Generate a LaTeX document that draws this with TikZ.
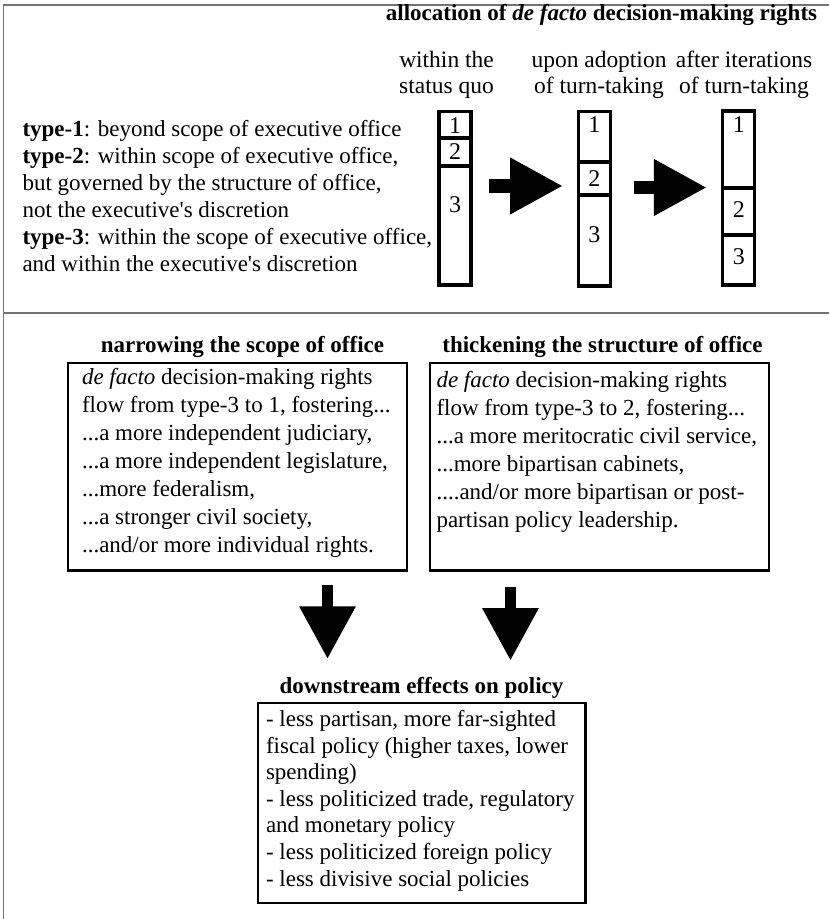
\documentclass[tikz,border=0pt]{standalone}
\usepackage{fontspec}
\newfontfamily\figfont{Liberation Serif}
\usepackage{tikz}
\usetikzlibrary{arrows.meta,positioning}

\begin{document}
\begin{tikzpicture}[
  x=0.75pt, y=-0.75pt,
  every node/.style={inner sep=0pt, outer sep=0pt, font=\figfont\fontsize{17.25pt}{20.25pt}\selectfont},
  frameline/.style={draw=black!55, line width=1.1pt},
  cell/.style={draw, line width=2.5pt, minimum width=24pt, anchor=north},
  panel/.style={draw, line width=1.75pt, minimum width=254.25pt, minimum height=155.6pt},
  lbl/.style={font=\figfont\bfseries\fontsize{17.25pt}{20.25pt}\selectfont, anchor=base},
  colhd/.style={align=center, anchor=base, font=\figfont\fontsize{17.6pt}{19.5pt}\selectfont},
  num/.style={anchor=base, font=\figfont\fontsize{18pt}{18pt}\selectfont},
  txt/.style={align=left, anchor=base west},
  fatright/.style={line width=10pt, -{Triangle[length=39.75pt, width=39.75pt]}},
  fatdown/.style={line width=8.75pt, -{Triangle[length=39.5pt, width=40pt]}},
]

\def\midfont{\figfont\fontsize{17.25pt}{21pt}\selectfont}
\def\lowfont{\figfont\fontsize{17.25pt}{19.9pt}\selectfont}

\useasboundingbox (0,0) rectangle (829,919);

% --- frame ---
\draw[frameline] (3.3,919) -- (3.3,5) -- (829,5);
\draw[frameline] (3.3,313) -- (829,313);

% --- types of rights (placed at last baseline) ---
\node[txt] (types) at (22.5,272) {\textbf{type-1}: beyond scope of executive office\\
  \textbf{type-2}: within scope of executive office,\\
  but governed by the structure of office,\\
  not the executive's discretion\\
  \textbf{type-3}: within the scope of executive office,\\
  and within the executive's discretion};

% --- allocation of rights ---
\node[lbl] (alloc) at (601.5,21) {allocation of \textit{de facto} decision-making rights};
\node[colhd] (c1) at (446.5,94) {within the\\status quo};
\node[colhd] (c2) at (599,94) {upon adoption\\of turn-taking};
\node[colhd] (c3) at (744,94) {after iterations\\of turn-taking};

% status quo
\node[cell, minimum height=19.875pt] (q1) at (455,111.5) {};
\node[cell, minimum height=21pt, below=0pt of q1] (q2) {};
\node[cell, minimum height=89.25pt, below=0pt of q2] (q3) {};
\node[num] (q1n) at (455,133.3) {1};
\node[num] (q2n) at (455,159.3) {2};
\node[num] (q3n) at (455,213) {3};

% adoption
\node[cell, minimum height=37.875pt] (a1) at (594.25,111.5) {};
\node[cell, minimum height=24.75pt, below=0pt of a1] (a2) {};
\node[cell, minimum height=68.25pt, below=0pt of a2] (a3) {};
\node[num] (a1n) at (594.25,133) {1};
\node[num] (a2n) at (594.25,187) {2};
\node[num] (a3n) at (594.25,243) {3};

% iterations
\node[cell, minimum height=57.75pt] (i1) at (738.75,111) {};
\node[cell, minimum height=35.25pt, below=0pt of i1] (i2) {};
\node[cell, minimum height=37.5pt, below=0pt of i2] (i3) {};
\node[num] (i1n) at (738.75,133) {1};
\node[num] (i2n) at (738.75,218) {2};
\node[num] (i3n) at (738.75,265) {3};

\draw[fatright, shorten <=13.7pt, shorten >=11.4pt] ([yshift=-5.6pt]q3.east |- a2.west) -- ([yshift=-5.6pt]a2.west);
\draw[fatright, shorten <=17.5pt, shorten >=11.9pt] ([yshift=-6.75pt]a2.east) -- ([yshift=-6.75pt]a2.east -| i2.west);

% --- narrowing the scope ---
\node[lbl] (narrow) at (242.5,352) {narrowing the scope of office};
\node[panel] (nbox) at (237.5,466.75) {};
\node[txt, font=\midfont] (ntext) at (82,552) {\textit{de facto} decision-making rights\\
  flow from type-3 to 1, fostering...\\
  ...a more independent judiciary,\\
  ...a more independent legislature,\\
  ...more federalism,\\
  ...a stronger civil society,\\
  ...and/or more individual rights.};

% --- thickening the structure ---
\node[lbl] (thick) at (602.5,352.5) {thickening the structure of office};
\node[panel] (tbox) at (599.25,466.75) {};
\node[txt, font=\midfont] (ttext) at (436.5,527) {\textit{de facto} decision-making rights\\
  flow from type-3 to 2, fostering...\\
  ...a more meritocratic civil service,\\
  ...more bipartisan cabinets,\\
  ....and/or more bipartisan or post-\\
  partisan policy leadership.};

% --- downstream effects ---
\node[lbl] (effects) at (421.5,693) {downstream effects on policy};
\node[draw, line width=1.75pt, minimum width=245.6pt, minimum height=150pt] (effbox) at (421.75,803) {};
\node[txt, font=\lowfont] (efftext) at (266,886) {- less partisan, more far-sighted\\
  fiscal policy (higher taxes, lower\\
  spending)\\
  - less politicized trade, regulatory\\
  and monetary policy\\
  - less politicized foreign policy\\
  - less divisive social policies};

\draw[fatdown, shorten <=10.9pt, shorten >=33pt] ([xshift=67.5pt]nbox.south) -- ([xshift=67.5pt]nbox.south |- effbox.north);
\draw[fatdown, shorten <=12.4pt, shorten >=31.7pt] ([xshift=-66.6pt]tbox.south) -- ([xshift=-66.6pt]tbox.south |- effbox.north);

\end{tikzpicture}
\end{document}
